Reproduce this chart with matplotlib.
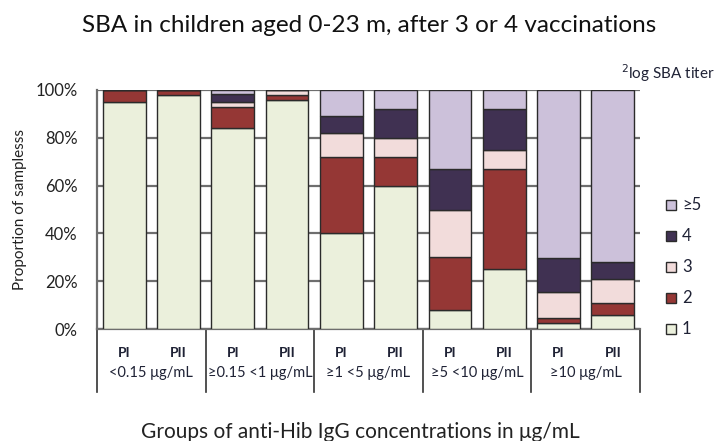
import matplotlib.pyplot as plt
import matplotlib.transforms as mtransforms
import numpy as np

plt.rcParams['font.family'] = ['Lato', 'DejaVu Sans']

groups = ["<0.15 μg/mL", "≥0.15 <1 μg/mL", "≥1 <5 μg/mL", "≥5 <10 μg/mL", "≥10 μg/mL"]
bar_labels = ["PI", "PII"] * 5

# proportions (%) per titer class, one value per bar
t1 = [95, 98, 84, 96, 40, 60, 8, 25, 2.5, 6]
t2 = [5, 2, 9, 2, 32, 12, 22, 42, 2, 5]
t3 = [0, 0, 2, 2, 10, 8, 20, 8, 11, 10]
t4 = [0, 0, 3.5, 0, 7, 12, 17, 17, 14, 7]
t5 = [0, 0, 1.5, 0, 11, 8, 33, 8, 70.5, 72]

series = [t1, t2, t3, t4, t5]
names = ["1", "2", "3", "4", "≥5"]
colors = ["#ebf0dc", "#953735", "#f2dcdb", "#403152", "#ccc1da"]

fig = plt.figure(figsize=(7.17, 4.41), dpi=100)
ax = fig.add_axes([97/717, 112/441, 543/717, 239/441])

x = np.arange(10)
bottom = np.zeros(10)
for vals, col in zip(series, colors):
    vals = np.array(vals, dtype=float)
    ax.bar(x, vals, 0.79, bottom=bottom, color=col, edgecolor="#2b2b2b",
           linewidth=1.0, zorder=3)
    bottom += vals

ax.set_xlim(-0.5, 9.5)
ax.set_ylim(0, 100)
ax.set_yticks([0, 20, 40, 60, 80, 100])
ax.set_yticklabels(["0%", "20%", "40%", "60%", "80%", "100%"])
ax.tick_params(axis="y", length=0, pad=14, labelsize=12, colors="#222222")
ax.set_xticks([])
ax.yaxis.grid(True, color="#6e6e6e", linewidth=1.6, zorder=0)
ax.set_axisbelow(True)
for s in ["top", "right"]:
    ax.spines[s].set_visible(False)
ax.spines["left"].set_color("#6e6e6e")
ax.spines["left"].set_linewidth(1.6)
ax.spines["bottom"].set_color("#6e6e6e")
ax.spines["bottom"].set_linewidth(1.6)

# table below the bars
trans = mtransforms.blended_transform_factory(ax.transData, ax.transAxes)
for b in [-0.5, 1.5, 3.5, 5.5, 7.5, 9.5]:
    ax.plot([b, b], [0, -0.265], transform=trans, color="#333333",
            linewidth=1.2, clip_on=False)
for i, lab in enumerate(bar_labels):
    ax.text(i, -0.10, lab, transform=trans, ha="center", va="center",
            fontsize=10, fontweight="bold", color="#1f2235")
for g, lab in enumerate(groups):
    ax.text(2 * g + 0.5, -0.184, lab, transform=trans, ha="center",
            va="center", fontsize=10.5, color="#1f2235")

# legend
ly = [329, 298, 267, 236, 205]
for name, col, yy in zip(names, colors, ly):
    fig.patches.append(plt.Rectangle((666/717, (441 - yy - 5)/441), 10/717, 10/441,
                                     transform=fig.transFigure, facecolor=col,
                                     edgecolor="#2b2b2b", linewidth=1.0))
    fig.text(682/717, (441 - yy)/441, name, ha="left", va="center",
             fontsize=12, color="#1f2235")

fig.text(717/717 - 0.003, (441 - 73)/441, "$^2$log SBA titer", ha="right",
         va="center", fontsize=11, color="#1f2235")

fig.text(369/717, (441 - 25)/441, "SBA in children aged 0-23 m, after 3 or 4 vaccinations",
         ha="center", va="center", fontsize=17.5, color="#111111")
fig.text(20/717, (441 - 210)/441, "Proportion of samplesss", rotation=90,
         ha="center", va="center", fontsize=11, color="#222222")
fig.text(360/717, (441 - 432)/441, "Groups of anti-Hib IgG concentrations in μg/mL",
         ha="center", va="center", fontsize=15, color="#222222")

fig.savefig("out.png", dpi=100)
